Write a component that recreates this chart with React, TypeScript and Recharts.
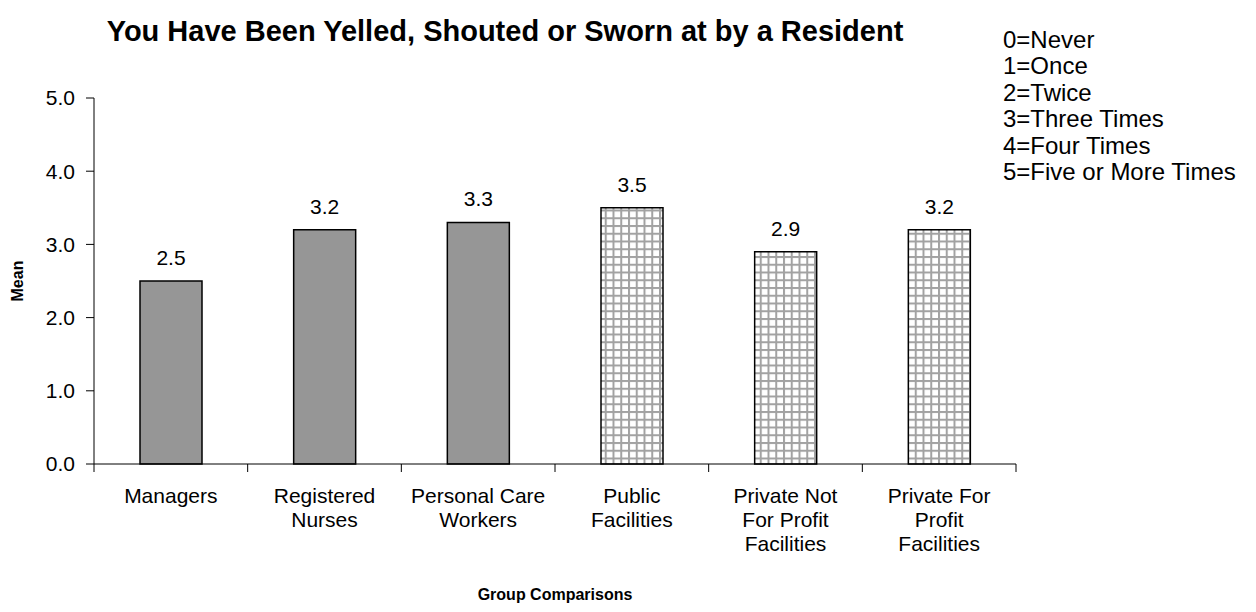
import { BarChart, Bar, XAxis, YAxis, Cell, LabelList } from "recharts";

const categories = [
  "Managers",
  "Registered\nNurses",
  "Personal Care\nWorkers",
  "Public\nFacilities",
  "Private Not\nFor Profit\nFacilities",
  "Private For\nProfit\nFacilities",
];
const means = [2.5, 3.2, 3.3, 3.5, 2.9, 3.2];
const hatched = [false, false, false, true, true, true];
const yTicks = [0, 1, 2, 3, 4, 5];
const scaleKey = [
  "0=Never",
  "1=Once",
  "2=Twice",
  "3=Three Times",
  "4=Four Times",
  "5=Five or More Times",
];

const data = categories.map((name, i) => ({ name, mean: means[i] }));

const FONT = "Arial, 'Liberation Sans', sans-serif";

// category label plus tick marks on the band edges (Excel style)
const CatTick = (props: any) => {
  const { x, y, payload, index } = props;
  const half = payload?.offset ?? 0;
  const top = y - 8;
  const lines = String(payload.value).split("\n");
  return (
    <g>
      <line x1={x - half} x2={x - half} y1={top} y2={top + 8} stroke="#000" />
      {index === categories.length - 1 && (
        <line x1={x + half} x2={x + half} y1={top} y2={top + 8} stroke="#000" />
      )}
      <text x={x} y={y} textAnchor="middle" fontFamily={FONT} fontSize={21} fill="#000">
        {lines.map((l, i) => (
          <tspan key={i} x={x} dy={i === 0 ? 31 : 24}>
            {l}
          </tspan>
        ))}
      </text>
    </g>
  );
};

export default function App() {
  return (
    <div style={{ width: 1248, height: 596, fontFamily: FONT }}>
      <BarChart
        width={1248}
        height={596}
        data={data}
        margin={{ top: 90, right: 240, left: 0, bottom: 139 }}
      >
        <defs>
          <pattern id="grid" patternUnits="userSpaceOnUse" width={7.75} height={7.75}>
            <rect width={7.75} height={7.75} fill="#fff" />
            <rect x={0} y={0} width={2} height={7.75} fill="#a2a2a2" />
            <rect x={0} y={0} width={7.75} height={2} fill="#a2a2a2" />
          </pattern>
        </defs>
        <XAxis
          dataKey="name"
          height={1}
          tickLine={false}
          tickSize={6}
          tickMargin={2}
          axisLine={{ stroke: "#000" }}
          tick={<CatTick />}
          interval={0}
        />
        <YAxis
          width={86}
          domain={[0, 5]}
          ticks={yTicks}
          tickFormatter={(v: number) => v.toFixed(1)}
          tickSize={8}
          tickMargin={11}
          axisLine={{ stroke: "#000" }}
          tickLine={{ stroke: "#000" }}
          tick={{ fill: "#000", fontSize: 21, fontFamily: FONT }}
        />
        <Bar
          dataKey="mean"
          barSize={62}
          stroke="#000"
          strokeWidth={1.5}
          isAnimationActive={false}
        >
          {data.map((d, i) => (
            <Cell key={d.name} fill={hatched[i] ? "url(#grid)" : "#969696"} />
          ))}
          <LabelList
            dataKey="mean"
            position="top"
            offset={16}
            formatter={(v: any) => Number(v).toFixed(1)}
            style={{ fill: "#000", fontSize: 21, fontFamily: FONT }}
          />
        </Bar>
        <text x={497} y={33} textAnchor="middle" fontFamily={FONT} fontSize={29} fontWeight="bold" fill="#000">
          You Have Been Yelled, Shouted or Sworn at by a Resident
        </text>
        <text x={547} y={592} textAnchor="middle" fontFamily={FONT} fontSize={16} fontWeight="bold" fill="#000">
          Group Comparisons
        </text>
        <text
          x={15}
          y={273}
          textAnchor="middle"
          fontFamily={FONT}
          fontSize={16}
          fontWeight="bold"
          fill="#000"
          transform="rotate(-90 15 273)"
        >
          Mean
        </text>
        {scaleKey.map((s, i) => (
          <text key={s} x={995} y={40 + i * 26.4} fontFamily={FONT} fontSize={24} fill="#000">
            {s}
          </text>
        ))}
      </BarChart>
    </div>
  );
}
